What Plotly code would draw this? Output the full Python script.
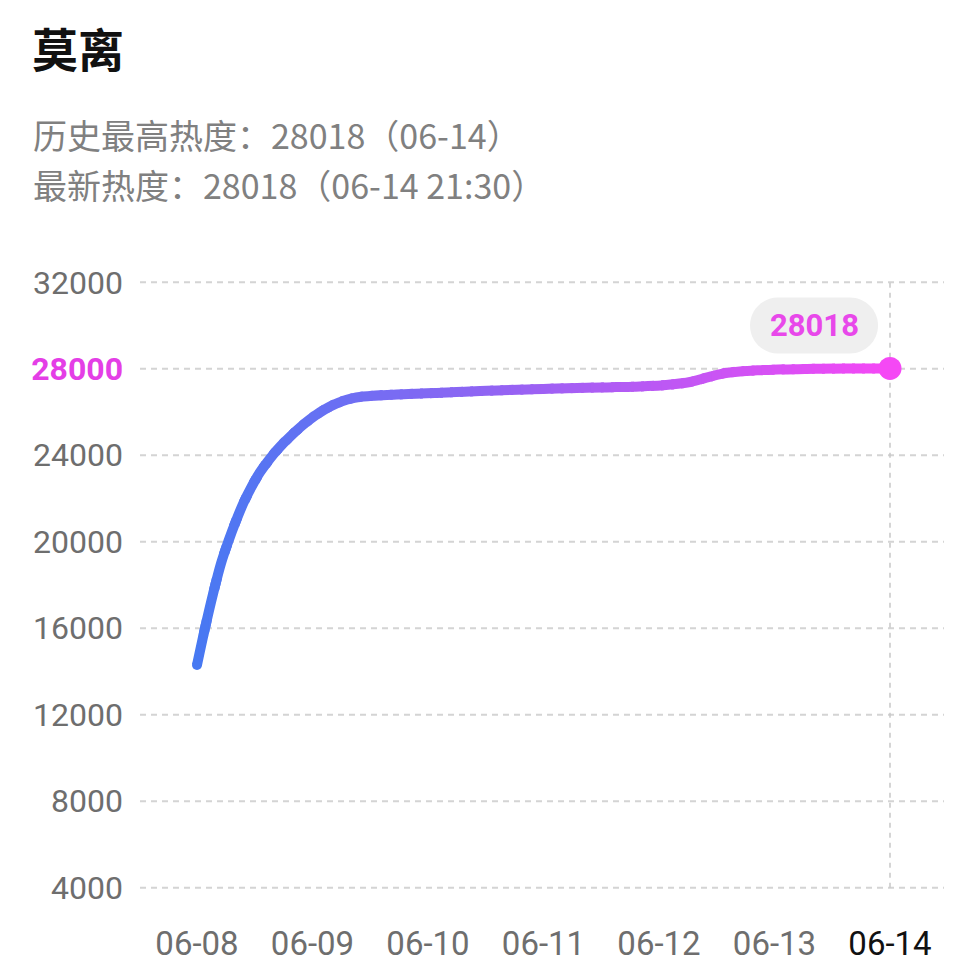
import plotly.graph_objects as go

# ---- data ----
title_text = "莫离"
sub1 = "历史最高热度：28018（06-14）"
sub2 = "最新热度：28018（06-14 21:30）"
dates = ["06-08", "06-09", "06-10", "06-11", "06-12", "06-13", "06-14"]
day_pos = [0, 0.069, 0.139, 0.208, 0.271, 0.338, 0.401, 0.472, 0.545, 0.661,
           0.719, 0.82, 0.909, 1.007, 1.152, 1.296, 1.44, 1.729, 2.075, 2.45,
           3.0, 3.5, 3.835, 4.1, 4.27, 4.41, 4.55, 4.7, 4.85, 5.28, 6.0]
heat = [14300, 16000, 17590, 19000, 20010, 20970, 21780, 22540, 23210, 24040,
        24395, 24935, 25365, 25780, 26260, 26570, 26720, 26810, 26885, 26970,
        27070, 27140, 27180, 27270, 27390, 27590, 27780, 27880, 27930, 27995, 28018]
y_ticks = [4000, 8000, 12000, 16000, 20000, 24000, 28000, 32000]
highlight_tick = 28000
latest_value = 28018

# ---- layout geometry (page is offset by 8px body margin) ----
OFF = 8
W, H = 978 - OFF, 978 - OFF
L, T = 140 - OFF, 278 - OFF
plot_right, plot_bottom = 944 - OFF, 892 - OFF
R, B = W - plot_right, H - plot_bottom
x_range = [-0.4935, 6.4675]
y_range = [3800, 32200]
pw, ph = W - L - R, H - T - B

def px_to_paper(px, py):
    # px, py are reference page coordinates
    return (px - OFF - L) / pw, (H - B - (py - OFF)) / ph

c0 = (71, 121, 242)
c1 = (245, 72, 245)
def grad(t):
    t = max(0.0, min(1.0, t))
    return "rgb(%d,%d,%d)" % tuple(round(a + (b - a) * t) for a, b in zip(c0, c1))

fig = go.Figure()
N = 80
span = x_range[1] - x_range[0]
eps = 1.5 / pw  # small overlap between slices (in domain units)
layout_axes = {}
x_first, x_last = day_pos[0], day_pos[-1]
for i in range(N):
    k = i + 1
    d0 = max(0.0, i / N - eps)
    d1 = min(1.0, (i + 1) / N + eps)
    a0 = x_range[0] + span * d0
    a1 = x_range[0] + span * d1
    mid = x_range[0] + span * (i + 0.5) / N
    t = (mid - x_first) / (x_last - x_first)
    axname = "x" if k == 1 else "x%d" % k
    fig.add_trace(go.Scatter(
        x=day_pos, y=heat, mode="lines", xaxis=axname, yaxis="y",
        line=dict(color=grad(t), width=10, shape="spline", smoothing=1.0),
        hoverinfo="skip", showlegend=False))
    layout_axes["xaxis" if k == 1 else "xaxis%d" % k] = dict(
        domain=[d0, d1], range=[a0, a1], anchor="y", visible=False, fixedrange=True)

MAIN = "x%d" % (N + 1)
MAIN_KEY = "xaxis%d" % (N + 1)

# rounded start cap and end marker on the main (top-most) subplot
fig.add_trace(go.Scatter(
    x=[day_pos[0]], y=[heat[0]], mode="markers", cliponaxis=False, xaxis=MAIN, yaxis="y",
    marker=dict(size=10, color=grad(0), line=dict(width=0)),
    showlegend=False, hoverinfo="skip"))
fig.add_trace(go.Scatter(
    x=[day_pos[-1]], y=[heat[-1]], mode="markers", cliponaxis=False, xaxis=MAIN, yaxis="y",
    marker=dict(size=23, color="#f548f5", line=dict(width=0)),
    showlegend=False, hoverinfo="skip"))

y_text = []
for v in y_ticks:
    if v == highlight_tick:
        y_text.append("<span style='color:#e43ee6'><b>%d</b></span>" % v)
    else:
        y_text.append(str(v))
x_text = [d if i < len(dates) - 1 else "<span style='color:#111111'>%s</span>" % d
          for i, d in enumerate(dates)]

layout_axes[MAIN_KEY] = dict(
    domain=[0, 1], range=x_range, anchor="y",
    tickvals=list(range(len(dates))), ticktext=x_text,
    showgrid=False, zeroline=False, showline=False, ticks="",
    tickfont=dict(family="Roboto", size=33, color="#6e6e6e"),
    ticklabelstandoff=29, fixedrange=True)

fig.update_layout(
    width=W, height=H, margin=dict(l=L, r=R, t=T, b=B),
    paper_bgcolor="white", plot_bgcolor="rgba(0,0,0,0)", showlegend=False,
    yaxis=dict(range=y_range, tickvals=y_ticks, ticktext=y_text, anchor=MAIN,
               showgrid=False, zeroline=False, showline=False, ticks="",
               tickfont=dict(family="Roboto", size=32, color="#6e6e6e"),
               ticklabelstandoff=16, fixedrange=True),
    **layout_axes,
)

# dashed horizontal gridlines at the y ticks
for v in y_ticks:
    fig.add_shape(type="line", xref="paper", yref="y", x0=0, x1=1, y0=v, y1=v,
                  line=dict(color="#d4d4d4", width=2, dash="6px,5px"), layer="below")

# vertical dashed line at last date
fig.add_shape(type="line", xref=MAIN, yref="y", x0=day_pos[-1], x1=day_pos[-1],
              y0=y_ticks[0], y1=y_ticks[-1],
              line=dict(color="#c8c8c8", width=1.5, dash="5px,5px"), layer="below")

# pill-shaped label background (pixel coordinates relative to the last point)
k = 15.46
pill = ("M -112,15 L -40,15 C %.2f,15 -12,%.2f -12,43 C -12,%.2f %.2f,71 -40,71 "
        "L -112,71 C %.2f,71 -140,%.2f -140,43 C -140,%.2f %.2f,15 -112,15 Z") % (
    -40 + k, 43 - k, 43 + k, -40 + k, -112 - k, 43 + k, 43 - k, -112 - k)
fig.add_shape(type="path", xref=MAIN, yref="y", xsizemode="pixel", ysizemode="pixel",
              xanchor=day_pos[-1], yanchor=heat[-1], path=pill,
              fillcolor="#efefef", line=dict(width=0), layer="above")
fig.add_annotation(x=day_pos[-1], y=heat[-1], xref=MAIN, yref="y", text="<b>%d</b>" % latest_value,
                   showarrow=False, xshift=-76, yshift=43,
                   font=dict(family="Roboto", size=31, color="#e848ea"))

# title and subtitles (reference page coords, with glyph centring correction)
for txt, px, py, size, color in [
        ("<b>%s</b>" % title_text, 30, 47, 46, "#111111"),
        (sub1, 31, 135, 34, "#808080"),
        (sub2, 31, 185, 34, "#808080")]:
    ax, ay = px_to_paper(px, py)
    fig.add_annotation(x=ax, y=ay, xref="paper", yref="paper", text=txt, showarrow=False,
                       xanchor="left", yanchor="middle",
                       font=dict(family="Noto Sans CJK SC", size=size, color=color))

fig.write_html("out.html")
